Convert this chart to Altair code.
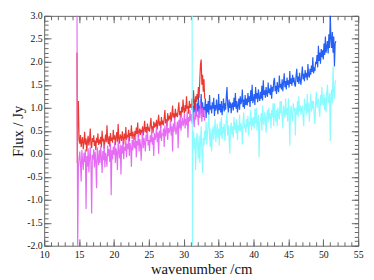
import altair as alt
import pandas as pd

A_START, A_STEP = 15.0, 0.1
wn_a_head = [14.7, 14.75, 14.8, 14.9]

red_txt = """
2.20 -0.20 0.75 1.15
0.30 0.22 0.41 0.15 0.28 0.36 0.10 0.25 0.48 0.20
0.33 0.05 0.27 0.39 0.18 0.30 0.55 0.21 0.12 0.34
0.26 0.40 0.17 0.29 0.08 0.35 0.24 0.44 0.19 0.31
0.22 0.37 0.14 0.50 0.27 0.33 0.11 0.29 0.42 0.25
0.62 0.30 0.21 0.38 0.16 0.45 0.28 0.35 0.24 0.52
0.31 0.40 0.19 0.36 0.47 0.26 0.65 0.33 0.22 0.42
0.37 0.28 0.49 0.35 0.20 0.44 0.32 0.58 0.30 0.41
0.36 0.52 0.27 0.45 0.39 0.62 0.33 0.48 0.40 0.30
0.50 0.38 0.57 0.43 0.68 0.36 0.47 0.55 0.41 0.52
0.45 0.60 0.40 0.54 0.72 0.47 0.58 0.44 0.66 0.50
0.55 0.48 0.63 0.78 0.52 0.60 0.45 0.70 0.57 0.64
0.59 0.74 0.53 0.68 0.85 0.61 0.70 0.56 0.80 0.64
0.69 0.62 0.78 0.95 0.66 0.75 0.60 0.88 0.72 0.80
0.77 0.90 0.70 0.84 1.05 0.79 0.88 0.74 0.98 0.83
0.86 0.80 0.97 1.12 0.84 0.93 0.78 1.02 0.90 1.18
0.95 0.88 1.06 0.92 1.25 0.98 1.04 0.87 1.15 1.00
1.08 1.00 1.20 1.05 1.38 1.10 0.98 1.25 1.12 1.30
1.18 1.45 1.22 1.60 1.95 2.05 1.50 1.72 1.35 1.62
1.20
"""

magenta_txt = """
3.30 0.20 -2.10 -0.30
-0.10 0.05 -0.22 -0.60 0.08 -0.15 -0.35 0.02 -0.18 0.10
-1.20 -0.05 -0.28 0.12 -0.40 -0.08 0.15 -0.22 -1.30 -0.02
-0.12 0.10 -0.30 0.05 -0.18 -0.75 0.14 -0.06 -0.25 0.08
-0.20 0.16 -0.08 -0.42 0.06 -0.14 0.20 -0.30 0.02 -0.10
-0.28 0.18 -0.05 0.10 -0.18 0.22 -0.90 0.08 -0.12 0.15
-0.02 0.25 -0.20 0.12 0.02 -0.35 0.28 0.06 -0.10 0.20
-0.45 0.18 0.00 0.30 -0.12 0.15 0.06 0.33 -0.08 0.22
0.10 0.35 -0.05 0.24 0.14 -0.28 0.30 0.08 0.38 0.16
0.12 0.40 -0.08 0.28 0.18 0.45 0.05 0.32 0.20 -0.15
0.26 0.48 0.12 0.35 0.22 0.05 0.42 0.28 0.52 0.18
0.30 0.06 0.40 0.25 0.55 0.20 0.36 -0.05 0.45 0.30
0.38 0.58 0.25 0.46 0.00 0.50 0.34 0.62 0.28 0.44
0.40 0.55 0.15 0.62 0.38 0.48 0.70 0.30 0.56 0.45
0.52 0.72 0.40 0.60 0.05 0.66 0.48 0.78 0.55 0.42
0.58 0.70 0.12 0.74 0.55 0.85 0.50 0.66 0.78 0.60
0.68 0.88 0.55 0.76 0.62 0.92 0.35 0.80 0.70 0.95
0.72 0.86 0.66 1.00 0.78 0.58 0.90 0.74 1.05 0.80
0.85 0.62 0.98 0.78 1.12 0.88 0.70 1.00 0.82 0.95
0.72
"""

B_START, B_STEP = 31.4, 0.1
wn_b_head = [31.2, 31.25, 31.3]

blue_txt = """
0.95 1.10 0.85
1.05 0.90 1.18 0.96 0.82 1.10
0.92 1.25 0.85 1.05 0.98 1.30 0.88 1.12 0.80 1.02
0.95 1.20 0.78 1.08 0.90 1.15 0.85 1.28 0.96 1.05
0.88 1.12 0.98 1.22 0.82 1.06 0.94 1.18 1.00 0.86
1.30 0.95 1.08 0.90 1.15 0.84 1.02 1.20 0.92 1.10
0.96 1.25 1.45 1.05 0.90 1.18 1.00 1.12 0.88 1.08
1.10 0.94 1.22 1.02 1.32 0.98 1.15 0.90 1.05 1.20
0.96 1.25 1.08 1.15 1.40 1.02 1.18 0.98 1.28 1.06
1.20 1.05 1.32 1.12 1.25 1.02 1.38 1.15 1.50 1.10
1.18 1.30 1.06 1.45 1.20 1.32 1.12 1.40 1.22 1.15
1.35 1.20 1.48 1.16 1.60 1.28 1.38 1.22 1.45 1.30
1.24 1.55 1.32 1.42 1.28 1.50 1.20 1.46 1.35 1.58
1.65 1.36 1.48 1.30 1.56 1.42 1.34 1.70 1.44 1.52
1.40 1.62 1.36 1.55 1.75 1.45 1.58 1.40 1.66 1.50
1.60 1.44 1.80 1.52 1.64 1.48 1.72 1.55 1.66 1.50
1.46 1.70 1.85 1.56 1.68 1.52 1.76 1.60 1.50 1.72
1.90 1.62 1.74 1.58 1.82 1.66 1.76 1.60 1.95 1.70
1.66 1.85 1.72 1.92 1.78 2.10 1.75 1.88 1.80 2.00
1.95 2.15 1.88 2.35 2.02 2.20 1.96 2.28 2.10 2.25
2.05 2.40 2.15 2.55 2.20 2.32 2.45 2.18 2.60 2.30
3.05 2.50 2.30 2.65 2.20 2.55 1.90 2.40 2.45
"""

cyan_txt = """
3.30 -2.10 0.30
0.50 0.10 0.35 -0.35 0.22 0.45
0.15 -0.10 0.40 -0.20 0.28 0.60 0.05 -0.42 0.35 0.18
0.50 0.30 0.70 0.20 0.45 0.62 0.85 0.38 0.15 0.55
0.05 0.42 0.60 0.30 0.52 0.75 0.25 0.48 0.65 0.35
0.55 0.18 0.70 0.40 0.80 0.32 0.58 0.45 0.65 0.28
0.50 0.72 0.90 0.40 0.62 0.35 0.00 0.55 0.68 0.42
0.60 0.35 0.80 0.52 0.68 0.45 0.75 0.30 0.62 0.50
0.85 0.48 0.66 0.58 0.20 0.72 0.90 0.55 0.64 0.46
0.75 0.58 0.82 0.40 0.70 0.62 0.95 0.52 0.78 0.60
0.80 0.55 0.98 0.66 1.00 0.50 0.72 0.85 -0.08 0.68
0.70 0.88 0.50 1.05 0.72 0.62 0.90 0.78 0.45 0.82
0.95 0.68 1.00 0.75 0.88 0.55 0.95 0.80 1.10 0.60
1.10 0.82 0.70 0.95 0.60 1.00 0.85 0.75 1.15 0.88
1.15 0.80 0.55 1.05 0.92 0.78 1.20 0.85 1.00 0.70
1.20 0.88 0.18 0.95 1.05 0.80 0.70 1.10 0.92 1.00
0.40 1.00 0.85 1.15 0.80 1.25 0.92 1.05 0.85 0.98
1.05 0.78 0.60 1.20 0.95 1.08 0.85 1.30 0.90 1.10
0.70 1.05 1.30 0.92 1.15 0.98 1.15 0.82 0.65 1.10
1.35 1.00 1.12 1.20 0.95 0.80 1.28 1.05 1.45 1.10
1.05 1.30 0.95 1.22 0.90 1.35 1.50 1.10 1.15 1.32
0.28 1.25 1.40 1.10 1.90 1.35 1.20 1.55 1.60
"""

red = [float(v) for v in red_txt.split()]
magenta = [float(v) for v in magenta_txt.split()]
blue = [float(v) for v in blue_txt.split()]
cyan = [float(v) for v in cyan_txt.split()]

wn_a = wn_a_head + [round(A_START + A_STEP * i, 2) for i in range(len(red) - len(wn_a_head))]
wn_b = wn_b_head + [round(B_START + B_STEP * i, 2) for i in range(len(blue) - len(wn_b_head))]

x_major = [10, 15, 20, 25, 30, 35, 40, 45, 50, 55]
x_minor = list(range(10, 56))
y_major = [-2.0, -1.5, -1.0, -0.5, 0.0, 0.5, 1.0, 1.5, 2.0, 2.5, 3.0]
y_minor = [round(-2.0 + 0.1 * i, 1) for i in range(51)]

df_a = pd.DataFrame({"wn": wn_a, "red": red, "magenta": magenta})
df_b = pd.DataFrame({"wn": wn_b, "blue": blue, "cyan": cyan})

FONT = "Liberation Serif"
FRAME = "#666666"
TXT = "#111111"

xscale = alt.Scale(domain=[10, 55], nice=False, zero=False)
yscale = alt.Scale(domain=[-2, 3], nice=False, zero=False)


def axis(orient, values, size, labels=False, title=None, fmt=None, tpad=3, lpad=2):
    kw = dict(orient=orient, values=values, tickSize=size, offset=-size,
              domain=False, grid=False, labels=labels, tickColor=FRAME,
              tickWidth=1, title=title)
    if labels:
        kw.update(labelFont=FONT, labelFontSize=10, labelColor=TXT,
                  labelPadding=lpad, labelFlush=False, labelOverlap=False)
    if fmt:
        kw.update(format=fmt, labelExpr="replace(datum.label, '\u2212', '-')")
    if title:
        kw.update(titleFont=FONT, titleFontSize=15, titleFontWeight="normal",
                  titleColor=TXT, titlePadding=tpad)
    return alt.Axis(**kw)


def series(df, field, color, xax, yax):
    return alt.Chart(df).mark_line(color=color, strokeWidth=1.2, opacity=0.9,
                                   clip=True).encode(
        x=alt.X("wn:Q", scale=xscale, axis=xax),
        y=alt.Y(f"{field}:Q", scale=yscale, axis=yax),
    )


b = series(df_b, "blue", "#0d4ef2",
           axis("top", x_major, 7),
           axis("right", y_major, 7))
r = series(df_a, "red", "#e8231c",
           axis("bottom", x_major, 7, labels=True, title="wavenumber /cm", tpad=2, lpad=4),
           axis("left", y_major, 7, labels=True, title="Flux / Jy", fmt=".1f", tpad=1))
m = series(df_a, "magenta", "#e35cf2",
           axis("bottom", x_minor, 4),
           axis("left", y_minor, 4))
c = series(df_b, "cyan", "#7dfbff",
           axis("top", x_minor, 4),
           axis("right", y_minor, 4))

chart = alt.layer(b, r, m, c).resolve_axis(
    x="independent", y="independent"
).properties(
    width=321, height=235,
    padding={"left": 37, "top": 5, "right": 8, "bottom": 32},
    autosize=alt.AutoSizeParams(type="none"),
    background="white",
).configure_view(stroke=FRAME, strokeWidth=1)

chart.save("out.html", embed_options={"renderer": "svg", "actions": False})
